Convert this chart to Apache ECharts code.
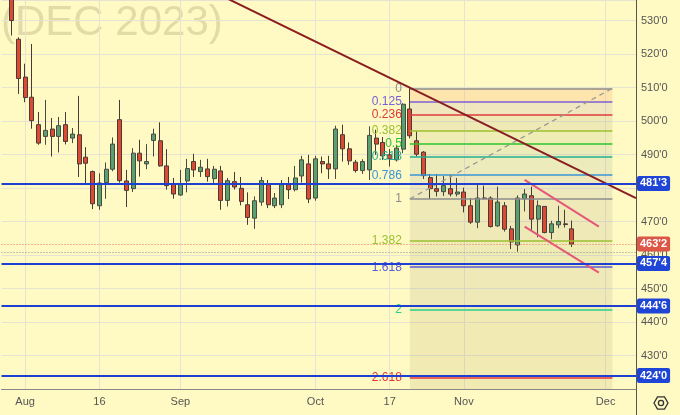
<!DOCTYPE html>
<html><head><meta charset="utf-8">
<script src="https://cdn.jsdelivr.net/npm/echarts@6/dist/echarts.min.js"></script>
<style>html,body{margin:0;padding:0;background:#fff9c4;} #c{width:680px;height:415px;}</style>
</head><body><div id="c"></div>
<script>
const dates = [
 '07-27','07-28','07-31','08-01','08-02','08-03','08-04','08-07','08-08','08-09',
 '08-10','08-11','08-14','08-15','08-16','08-17','08-18','08-21','08-22','08-23',
 '08-24','08-25','08-28','08-29','08-30','08-31','09-01','09-05','09-06','09-07',
 '09-08','09-11','09-12','09-13','09-14','09-15','09-18','09-19','09-20','09-21',
 '09-22','09-25','09-26','09-27','09-28','09-29','10-02','10-03','10-04','10-05',
 '10-06','10-09','10-10','10-11','10-12','10-13','10-16','10-17','10-18','10-19',
 '10-20','10-23','10-24','10-25','10-26','10-27','10-30','10-31','11-01','11-02',
 '11-03','11-06','11-07','11-08','11-09','11-10','11-13','11-14','11-15','11-16',
 '11-17','11-20','11-21','11-22','11-24','11-27','11-28','11-29','11-30','12-01',
 '12-04','12-05','12-06','12-07'];
const opens = [
 null,541,524.4,513.1,507.1,498.9,495.4,497.6,495.4,498.9,
 494.9,495.9,489.2,484.9,474.7,481.6,485.6,500.4,482.1,479.8,
 490.4,487.2,494.2,494.1,486.6,481.2,477.9,482.1,487.9,484.9,
 485.7,482.8,485.1,476.3,481.9,479.9,475.0,471.0,475.8,481.0,
 474.7,475.0,481.0,479.5,483.6,487.2,477.0,487.9,487.2,485.7,
 495.9,491.7,487.7,485.2,485.4,494.9,493.6,489.9,488.4,491.6,
 503.6,494.1,490.7,483.1,479.8,478.9,479.8,478.2,478.8,474.7,
 469.8,477.0,477.0,468.7,474.7,467.8,463.0,476.8,477.7,470.7,
 474.5,466.7,469.0,469.3,467.8];
const closes = [
 null,530.0,512.7,507.0,500.1,493.4,497.2,495.4,498.6,493.9,
 496.1,487.2,487.4,475.3,481.5,485.6,493.1,482.2,479.3,490.4,
 488.1,487.9,496.1,486.6,480.7,478.2,481.3,485.8,485.4,486.2,
 483.4,485.6,476.3,482.2,480.3,476.0,471.2,476.2,482.2,475.0,
 477.0,481.0,479.5,483.0,488.4,476.7,488.7,487.2,485.7,497.6,
 491.7,488.1,485.2,487.9,495.7,493.1,489.6,488.7,491.9,505.0,
 495.6,490.1,483.7,479.8,479.0,480.7,478.2,478.8,474.7,469.8,
 477.0,476.9,468.5,475.8,467.7,463.9,477.0,478.2,470.7,474.7,
 466.7,469.3,470.0,469.1,463.25];
const lows = [
 null,525.5,508.1,505.6,497.7,492.9,492.9,489.4,490.6,493.0,
 493.4,483.3,481.3,473.7,473.5,476.8,485.0,481.6,474.3,478.8,
 483.4,485.6,489.4,486.4,479.5,476.8,477.7,478.7,483.3,483.3,
 481.9,481.0,473.5,474.5,479.5,474.8,469.0,467.8,474.7,474.0,
 474.0,474.0,476.7,479.0,481.6,475.5,476.2,484.4,482.7,482.7,
 487.9,486.9,484.6,484.2,482.4,489.9,488.4,486.4,487.9,490.4,
 494.8,489.4,482.7,476.75,477.5,477.6,477.5,477.5,472.7,469.3,
 468.0,476.6,468.2,468.4,467.0,461.8,461.0,473.0,467.5,465.3,
 466.5,464.7,468.0,468.2,462.4];
const highs = [
 null,545,525.0,517.1,523.0,502.7,506.3,500.9,501.2,502.7,
 497.9,507.5,492.2,485.2,484.4,487.6,495.1,506.3,485.4,491.9,
 494.4,493.1,497.7,499.6,491.6,483.0,485.4,488.7,490.2,488.4,
 488.7,486.6,486.6,483.0,484.8,483.3,478.7,477.5,483.3,482.4,
 478.5,482.4,483.3,486.6,489.6,489.9,489.6,489.4,489.6,498.6,
 498.9,493.6,488.4,488.6,498.4,497.4,495.2,491.6,492.9,505.3,
 509.75,496.9,491.0,484.2,484.2,483.6,483.9,483.0,480.1,477.0,
 481.2,480.7,477.5,480.4,475.8,468.7,477.8,479.7,480.4,476.3,
 474.6,470.2,474.7,473.5,470.3];

const xLabels = {'08-01':'Aug','08-16':'16','09-01':'Sep','10-02':'Oct','10-17':'17','11-01':'Nov','12-01':'Dec'};
const yTicksHidden = [420, 480];

const keyLevels = [481.375, 457.5, 444.75, 424.0];
const lastPrice = 463.25;
const periodLow = 460.9;

const fibHigh = 509.75, fibLow = 476.75;
const fibStart = 60, fibEnd = 90;
const fibLevels = [0, 0.125, 0.236, 0.382, 0.5, 0.618, 0.786, 1, 1.382, 1.618, 2, 2.618];
const fibNames  = ['0','0.125','0.236','0.382','0.5','0.618','0.786','1','1.382','1.618','2','2.618'];
const fibColors = ['#8c8c8c','#7b5fd6','#e0393b','#9cc130','#2fc42f','#25b090','#3a95d6','#8c8c8c','#9cc130','#5d5ad6','#2ccf86','#e0393b'];
const fibFills  = ['rgba(250,160,90,0.22)','rgba(150,130,160,0.14)','rgba(150,150,100,0.15)','rgba(130,160,80,0.13)',
                   'rgba(90,150,90,0.12)','rgba(90,140,130,0.12)','rgba(110,120,130,0.12)','rgba(120,130,100,0.13)',
                   'rgba(120,140,70,0.12)','rgba(120,120,90,0.12)','rgba(150,140,60,0.13)','rgba(150,140,60,0.13)'];

const trendLine = [[20, 549.3], [93.5, 477.0]];
const channelUp = [[77, 482.4], [88, 468.45]];
const channelDn = [[77, 468.45], [88, 454.72]];
const fibDiag = [[fibStart, fibLow], [fibEnd, fibHigh]];

const fmt = v => { const i = Math.floor(v + 1e-9); return i + "'" + Math.round((v - i) * 8); };

const candleData = dates.map((d, i) => (i < opens.length && opens[i] != null) ? [opens[i], closes[i], lows[i], highs[i]] : '-');
const fibVal = l => fibHigh - l * (fibHigh - fibLow);

const bands = fibLevels.map((l, i) => {
  const top = fibVal(l);
  const bot = i < fibLevels.length - 1 ? fibVal(fibLevels[i + 1]) : 420;
  return [{coord: [fibStart, top], itemStyle: {color: fibFills[i]}}, {coord: [fibEnd, bot]}];
});
const fibLines = fibLevels.map((l, i) => [
  {coord: [fibStart, fibVal(l)], lineStyle: {color: fibColors[i], width: 1.5, type: 'solid'},
   label: {show: true, position: 'start', formatter: fibNames[i], color: fibColors[i], fontSize: 12, distance: 8,
           fontFamily: 'Liberation Sans'}},
  {coord: [fibEnd, fibVal(l)]}
]);
const vGridIdx = dates.map((d, i) => xLabels[d] ? i : -1).filter(i => i >= 0);

const lbl = (bg) => ({show: true, position: 'end', distance: 1, formatter: p => fmt(p.value),
  backgroundColor: bg, color: '#fff', fontWeight: 'bold', fontSize: 11, fontFamily: 'Liberation Sans',
  padding: [2, 3, 1, 3], borderRadius: 2, lineHeight: 12});

const chart = echarts.init(document.getElementById('c'), null, {renderer: 'canvas'});
chart.setOption({
  animation: false,
  backgroundColor: '#fff9c4',
  grid: {left: 1.5, right: 44, top: 0, bottom: 26},
  xAxis: [{
    type: 'category', data: dates, boundaryGap: true,
    axisLine: {show: true, onZero: false, lineStyle: {color: '#888', width: 1}},
    axisTick: {show: false},
    splitLine: {show: false},
    axisLabel: {interval: 0, margin: 7, color: '#555', fontSize: 11, fontFamily: 'Liberation Sans',
                formatter: v => xLabels[v] || ''}
  }, {
    type: 'value', min: -0.5, max: 93.5, show: false
  }],
  yAxis: {
    type: 'value', position: 'right', min: 420, max: 536.12, interval: 10, scale: true,
    axisLine: {show: true, onZero: false, lineStyle: {color: '#555', width: 1}},
    axisTick: {show: false},
    splitLine: {show: true, lineStyle: {color: '#e6e3d2', width: 1}},
    axisLabel: {showMinLabel: false, showMaxLabel: false, margin: 5, color: '#555', fontSize: 11, fontFamily: 'Liberation Sans',
                formatter: v => yTicksHidden.indexOf(v) >= 0 ? '' : fmt(v)}
  },
  series: [
    {type: 'line', xAxisIndex: 1, data: [], silent: true,
     markLine: {silent: true, z: 0, symbol: ['none', 'none'], label: {show: false},
       lineStyle: {color: '#e6e3d2', width: 1, type: 'solid'},
       data: vGridIdx.map(i => ({xAxis: i}))}},
    {type: 'line', xAxisIndex: 1, data: [], silent: true,
     markArea: {silent: true, z: 1, data: bands},
     markLine: {silent: true, z: 4, symbol: ['none', 'none'], data: fibLines}},
    {type: 'candlestick', name: 'DEC 2023', data: candleData, barWidth: 4.6, z: 2,
     itemStyle: {color: '#5a9f6e', color0: '#dc4a33', borderColor: '#4a4a44', borderColor0: '#4a3a36', borderWidth: 1}},
    {type: 'line', xAxisIndex: 1, data: fibDiag, symbol: 'none', z: 5,
     lineStyle: {color: '#9a9a94', width: 1.3, type: [5, 4]}},
    {type: 'line', xAxisIndex: 1, data: channelUp, symbol: 'none', z: 5,
     lineStyle: {color: '#e6587a', width: 2}},
    {type: 'line', xAxisIndex: 1, data: channelDn, symbol: 'none', z: 5,
     lineStyle: {color: '#e6587a', width: 2}},
    {type: 'line', xAxisIndex: 1, data: trendLine, symbol: 'none', z: 6,
     lineStyle: {color: '#8a1f22', width: 2}},
    {type: 'line', xAxisIndex: 1, data: [], silent: true,
     markLine: {silent: true, z: 7, symbol: ['none', 'none'],
       data: [
         ...keyLevels.map(v => ({yAxis: v, lineStyle: {color: '#1f3fd2', width: 2.2, type: 'solid'}, label: lbl('#1f45d6')})),
         {yAxis: lastPrice, lineStyle: {color: '#e8735f', width: 1, type: [1, 2]}, label: lbl('#dd5747')},
         {yAxis: periodLow, lineStyle: {color: '#8a8a8a', width: 1, type: [1, 2]}, label: {show: false}}
       ]}}
  ],
  graphic: [
    {type: 'text', left: 1, top: 2, z: 0, silent: true,
     style: {text: '(DEC 2023)', font: '42px "Liberation Sans"', fill: 'rgba(110,100,50,0.2)'}},
    {type: 'line', silent: true, shape: {x1: 636.5, y1: 389, x2: 636.5, y2: 415}, style: {stroke: '#555', lineWidth: 1}},
    {type: 'polygon', silent: true, shape: {points: [[668,403],[664.5,409.1],[657.5,409.1],[654,403],[657.5,396.9],[664.5,396.9]]},
     style: {fill: 'none', stroke: '#333', lineWidth: 1.3}},
    {type: 'circle', silent: true, shape: {cx: 661, cy: 403, r: 2.6}, style: {fill: 'none', stroke: '#333', lineWidth: 1.3}}
  ]
});
</script></body></html>
